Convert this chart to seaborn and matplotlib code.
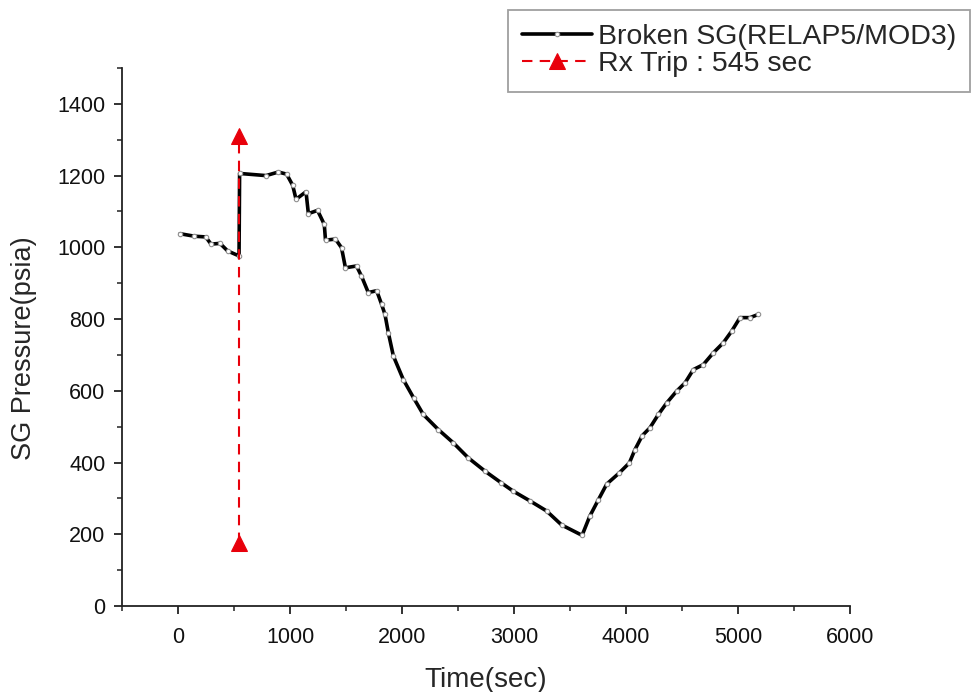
import matplotlib
matplotlib.use("Agg")
import matplotlib.pyplot as plt
import seaborn as sns
import pandas as pd
from matplotlib.ticker import MultipleLocator

# --- data ---
time_s = [18, 146, 247, 295, 375, 443, 545, 550, 786, 896, 970, 1024, 1054, 1143,
          1164, 1246, 1306, 1317, 1406, 1460, 1495, 1594, 1638, 1699, 1774, 1818,
          1848, 1878, 1923, 2012, 2104, 2190, 2324, 2458, 2592, 2741, 2888, 2994,
          3143, 3291, 3425, 3608, 3676, 3753, 3828, 3940, 4030, 4080, 4145, 4214,
          4289, 4363, 4452, 4527, 4601, 4690, 4780, 4869, 4943, 5018, 5107, 5182]
pressure_psia = [1038, 1031, 1029, 1009, 1011, 990, 976, 1206, 1200, 1210, 1204, 1173,
                 1134, 1155, 1094, 1103, 1064, 1020, 1023, 999, 943, 948, 920, 874,
                 879, 841, 813, 762, 697, 631, 580, 534, 492, 455, 413, 376, 343, 320,
                 293, 265, 226, 197, 250, 296, 340, 371, 399, 436, 475, 497, 534, 566,
                 599, 622, 659, 673, 706, 734, 766, 804, 804, 813]
trip_time = [545, 545]
trip_range = [175, 1310]

series_label = "Broken SG(RELAP5/MOD3)"
trip_label = "Rx Trip : 545 sec"
x_label = "Time(sec)"
y_label = "SG Pressure(psia)"

sns.set_style("ticks")
plt.rcParams["font.family"] = ["Liberation Sans", "DejaVu Sans"]

fig = plt.figure(figsize=(9.8, 6.92), dpi=100)
ax = fig.add_axes([122 / 980, 1 - 606 / 692, (850 - 122) / 980, (606 - 68) / 692])

df = pd.DataFrame({"t": time_s, "p": pressure_psia})
sns.lineplot(data=df, x="t", y="p", ax=ax, sort=False, estimator=None,
             color="black", linewidth=2.6,
             marker="o", markersize=3.2, markerfacecolor="white",
             markeredgecolor="#909090", markeredgewidth=0.8, label=series_label,
             legend=False)
trip_df = pd.DataFrame({"t": trip_time, "p": trip_range})
sns.lineplot(data=trip_df, x="t", y="p", ax=ax, sort=False, estimator=None,
             color="#e8000b", linewidth=1.5, linestyle=(0, (5, 3.5)), marker="^",
             markersize=11, markeredgecolor="#e8000b", label=trip_label,
             legend=False)

ax.set_xlim(-500, 6000)
ax.set_ylim(0, 1500)
ax.xaxis.set_major_locator(MultipleLocator(1000))
ax.xaxis.set_minor_locator(MultipleLocator(500))
ax.yaxis.set_major_locator(MultipleLocator(200))
ax.yaxis.set_minor_locator(MultipleLocator(100))
ax.set_xticks([0, 1000, 2000, 3000, 4000, 5000, 6000])
ax.set_yticks([0, 200, 400, 600, 800, 1000, 1200, 1400])

for s in ["top", "right"]:
    ax.spines[s].set_visible(False)
for s in ["left", "bottom"]:
    ax.spines[s].set_linewidth(1.3)
    ax.spines[s].set_color("#222222")

ax.tick_params(axis="both", which="major", length=6, width=1.3, labelsize=15.5,
               color="#222222", labelcolor="#111111", pad=6)
ax.tick_params(axis="both", which="minor", length=3.5, width=1.1, color="#222222")
ax.tick_params(axis="x", pad=9)

ax.set_xlabel(x_label, fontsize=20, labelpad=14)
ax.set_ylabel(y_label, fontsize=19.5)
ax.yaxis.set_label_coords(-0.117, 0.48)

handles, labels = ax.get_legend_handles_labels()
leg = fig.legend(handles, labels, loc="upper right", bbox_to_anchor=(0.99, 0.986),
                 fontsize=20.5, frameon=True, fancybox=False, edgecolor="#888888",
                 handlelength=2.45, handletextpad=0.2, borderpad=0.5,
                 labelspacing=0.05, borderaxespad=0)
leg.get_frame().set_linewidth(1.3)

fig.savefig("out.png", dpi=100, facecolor="white")
